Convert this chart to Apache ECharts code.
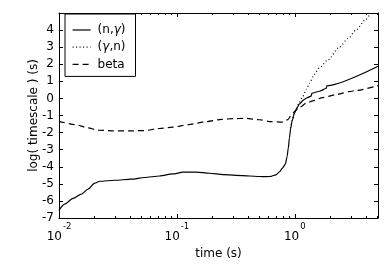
<!DOCTYPE html>
<html>
<head>
<meta charset="utf-8">
<script src="https://cdn.jsdelivr.net/npm/echarts@6/dist/echarts.min.js"></script>
<style>html,body{margin:0;padding:0;background:#fff;}#c{width:390px;height:265px;}</style>
</head>
<body>
<div id="c"></div>
<script>
// time (s) values and log(timescale) values
const ngTime = [0.0100,0.01117,0.01315,0.01549,0.01762,0.02009,0.02213,0.02965,0.04111,0.05321,0.07129,0.09247,0.1125,0.1459,0.1892,0.2455,0.3162,0.4130,0.5012,0.5728,0.6310,0.6918,0.7413,0.7852,0.8318,0.8610,0.8810,0.9016,0.9226,0.9506,0.9886,1.035,1.096,1.189,1.274,1.377,1.396,1.618,1.845,1.871,5.08];
const ngVal  = [-6.55,-6.19,-5.85,-5.6,-5.31,-4.96,-4.85,-4.79,-4.73,-4.63,-4.54,-4.42,-4.32,-4.31,-4.38,-4.46,-4.5,-4.54,-4.57,-4.58,-4.56,-4.47,-4.3,-4.08,-3.85,-3.4,-2.9,-2.3,-1.75,-1.3,-0.9,-0.6,-0.32,-0.08,0.04,0.14,0.3,0.42,0.58,0.74,1.88];

const gnTime = [0.9226,0.9506,0.9886,1.028,1.096,1.169,1.259,1.334,1.462,1.618,1.905,2.393,2.818,3.311,3.981,4.436,5.08];
const gnVal  = [-1.75,-1.3,-0.9,-0.62,-0.2,0.12,0.55,0.9,1.4,1.8,2.25,3.0,3.5,4.0,4.6,4.97,5.4];

const betaTime = [0.0100,0.01358,0.01762,0.02143,0.02818,0.03981,0.05321,0.07129,0.09247,0.1259,0.1774,0.2399,0.2985,0.3802,0.5012,0.6310,0.7943,0.8730,0.9333,1.0,1.096,1.259,1.422,1.726,2.244,2.904,3.311,5.08];
const betaVal  = [-1.34,-1.53,-1.72,-1.86,-1.9,-1.9,-1.88,-1.76,-1.68,-1.53,-1.36,-1.23,-1.18,-1.17,-1.25,-1.36,-1.39,-1.24,-1.0,-0.75,-0.52,-0.27,-0.14,0.05,0.22,0.4,0.47,0.75];

const seriesNames = ['(n,γ)', '(γ,n)', 'beta'];
const xMajor = [0.01, 0.1, 1];
const xMajorExp = ['-2', '-1', '0'];
const xMinor = [0.02,0.03,0.04,0.05,0.06,0.07,0.08,0.09,0.2,0.3,0.4,0.5,0.6,0.7,0.8,0.9,2,3,4,5];
const xMin = 0.01, xMax = 5.08;
const yMin = -7, yMax = 5;

function pairs(xs, ys){ return xs.map((x,i)=>[x, ys[i]]); }

const FONT = 'DejaVu Sans';
const chart = echarts.init(document.getElementById('c'), null, {renderer:'canvas'});

function logAxis(pos, vals, len, showLine, labels){
  const a = {
    type:'log', logBase:10, min:xMin, max:xMax, position:pos, gridIndex:0,
    axisLine:{show:showLine, onZero:false, lineStyle:{color:'#000', width:1}},
    axisTick:{show:true, inside:true, length:len, lineStyle:{color:'#000', width:1}, customValues:vals},
    axisLabel:{show:false},
    splitLine:{show:false}, minorTick:{show:false}, minorSplitLine:{show:false}
  };
  if (labels){
    a.axisLabel = {
      show:true, customValues:xMajor, margin:4, color:'#000',
      formatter: function(v){
        let idx = 0, best = Infinity;
        xMajor.forEach((m,i)=>{ const d=Math.abs(Math.log10(m)-Math.log10(v)); if(d<best){best=d;idx=i;} });
        return '{b|10}{s|' + xMajorExp[idx] + '}';
      },
      rich:{
        b:{fontSize:12, fontFamily:FONT, color:'#000', verticalAlign:'bottom'},
        s:{fontSize:8.5, fontFamily:FONT, color:'#000', verticalAlign:'top', padding:[0,0,12,1]}
      }
    };
    a.name = 'time (s)';
    a.nameLocation = 'middle';
    a.nameGap = 30;
    a.nameMoveOverlap = false;
    a.nameTextStyle = {fontSize:12, fontFamily:FONT, color:'#000'};
  }
  return a;
}

const option = {
  animation:false,
  textStyle:{fontFamily:FONT},
  grid:{left:59, top:13, width:319, height:206, containLabel:false},
  legend:{
    orient:'vertical', left:65, top:14,
    borderColor:'#000', borderWidth:1, borderRadius:0,
    backgroundColor:'#fff',
    padding:[9,10,5,7], itemWidth:18, itemHeight:14, itemGap:3.2,
    data:seriesNames,
    itemStyle:{color:'rgba(0,0,0,0)', borderWidth:0, opacity:0},
    lineStyle:{width:1.2},
    formatter: n => n.replace('γ','{i|γ}'),
    textStyle:{fontSize:12, lineHeight:14, fontFamily:FONT, color:'#000', padding:[0,0,0,2],
      rich:{i:{fontSize:12, lineHeight:14, fontFamily:FONT, fontStyle:'italic', color:'#000'}}}
  },
  xAxis:[
    logAxis('bottom', xMajor, 4, true, true),
    logAxis('bottom', xMinor, 2, false, false),
    logAxis('top', xMajor, 4, true, false),
    logAxis('top', xMinor, 2, false, false)
  ],
  yAxis:[
    {type:'value', min:yMin, max:yMax, interval:1, position:'left',
     axisLine:{show:true, onZero:false, lineStyle:{color:'#000', width:1}},
     axisTick:{show:true, inside:true, length:4, lineStyle:{color:'#000'}},
     axisLabel:{color:'#000', fontSize:12, fontFamily:FONT, margin:5,
       formatter: v => (v === yMax ? '' : String(v))},
     splitLine:{show:false},
     name:'log( timescale ) (s)', nameLocation:'middle', nameGap:19, nameMoveOverlap:false,
     nameTextStyle:{fontSize:12, fontFamily:FONT, color:'#000'}},
    {type:'value', min:yMin, max:yMax, interval:1, position:'right',
     axisLine:{show:true, onZero:false, lineStyle:{color:'#000', width:1}},
     axisTick:{show:true, inside:true, length:4, lineStyle:{color:'#000'}},
     axisLabel:{show:false}, splitLine:{show:false}}
  ],
  series:[
    {name:seriesNames[0], type:'line', xAxisIndex:0, yAxisIndex:0, data:pairs(ngTime, ngVal),
     symbol:'none', showSymbol:false, smooth:0.25, smoothMonotone:'x', clip:true,
     lineStyle:{color:'#000', width:1.2, type:'solid'}, itemStyle:{color:'#000'}},
    {name:seriesNames[1], type:'line', xAxisIndex:0, yAxisIndex:0, data:pairs(gnTime, gnVal),
     symbol:'none', showSymbol:false, smooth:0.25, smoothMonotone:'x', clip:true,
     lineStyle:{color:'#000', width:1.2, type:[1,2.5]}, itemStyle:{color:'#000'}},
    {name:seriesNames[2], type:'line', xAxisIndex:0, yAxisIndex:0, data:pairs(betaTime, betaVal),
     symbol:'none', showSymbol:false, smooth:0.25, smoothMonotone:'x', clip:true,
     lineStyle:{color:'#000', width:1.2, type:[6,4]}, itemStyle:{color:'#000'}}
  ]
};
chart.setOption(option);
</script>
</body>
</html>
